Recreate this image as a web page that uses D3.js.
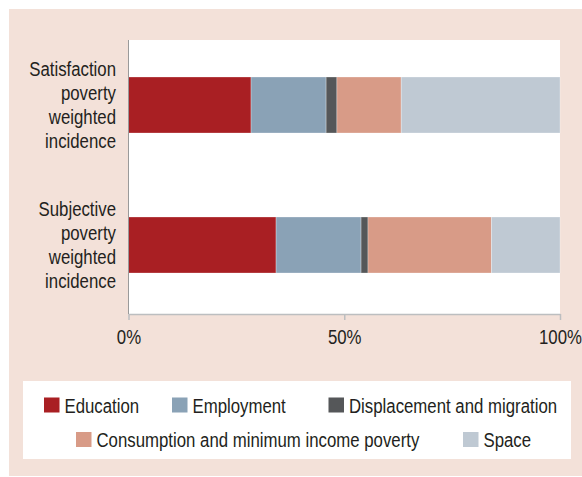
<!DOCTYPE html>
<html>
<head>
<meta charset="utf-8">
<script src="https://cdn.jsdelivr.net/npm/d3@7"></script>
<style>
  html, body { margin: 0; padding: 0; background: #ffffff; }
  svg { display: block; }
  text { font-family: "Liberation Sans", Arial, sans-serif; fill: #231f20; }
</style>
</head>
<body>
<svg id="chart" width="582" height="477"></svg>
<script>
// Poverty measures (rows) and their contributing dimensions (stacked shares, %)
const categories = [
  ["Satisfaction", "poverty", "weighted", "incidence"],
  ["Subjective", "poverty", "weighted", "incidence"]
];
const categoryKeys = ["Satisfaction poverty weighted incidence", "Subjective poverty weighted incidence"];

const seriesNames = [
  "Education",
  "Employment",
  "Displacement and migration",
  "Consumption and minimum income poverty",
  "Space"
];
const seriesColors = ["#a91f23", "#8aa2b6", "#555759", "#d89b87", "#bfc9d3"];

const education     = [28.4, 34.2];
const employment    = [17.4, 19.7];
const displacement  = [2.5, 1.6];
const consumption   = [14.9, 28.6];
const space         = [36.8, 15.9];

const tickValues = [0, 50, 100];
const tickLabels = ["0%", "50%", "100%"];

// Build a table for d3.stack from the arrays above
const seriesValues = [education, employment, displacement, consumption, space];
const table = categoryKeys.map((k, i) => {
  const row = { key: k };
  seriesNames.forEach((s, j) => { row[s] = seriesValues[j][i]; });
  return row;
});

// Condensed look: horizontal squeeze applied to all text
const squeeze = 0.8;
const fontSize = 21;

const svg = d3.select("#chart");

// Panel background
svg.append("rect")
  .attr("x", 9).attr("y", 9)
  .attr("width", 573).attr("height", 467)
  .attr("fill", "#f3e1d9");

const plot = { left: 128.5, right: 560, top: 40, bottom: 314 };

// Plot area
svg.append("rect")
  .attr("x", plot.left).attr("y", plot.top)
  .attr("width", plot.right - plot.left).attr("height", plot.bottom - plot.top)
  .attr("fill", "#ffffff");

const x = d3.scaleLinear().domain([0, 100]).range([plot.left, plot.right]);
const y = d3.scaleBand().domain(categoryKeys).range([35, 315])
  .paddingInner(0.6).paddingOuter(0.3);

const stacked = d3.stack().keys(seriesNames)(table);

svg.append("g").selectAll("g")
  .data(stacked)
  .join("g")
  .attr("fill", (d, i) => seriesColors[i])
  .selectAll("rect")
  .data(d => d)
  .join("rect")
  .attr("x", d => x(d[0]))
  .attr("y", d => y(d.data.key))
  .attr("width", d => x(d[1]) - x(d[0]))
  .attr("height", y.bandwidth())
  .attr("stroke", "rgba(255,255,255,0.35)")
  .attr("stroke-width", 0.8);

// Left axis line
svg.append("line")
  .attr("x1", plot.left).attr("x2", plot.left)
  .attr("y1", plot.top).attr("y2", plot.bottom)
  .attr("stroke", "#9a9a9a").attr("stroke-width", 1);

// Bottom axis
const xAxis = d3.axisBottom(x)
  .tickValues(tickValues)
  .tickFormat((d, i) => tickLabels[i])
  .tickSize(6)
  .tickSizeOuter(0)
  .tickPadding(9);

const gx = svg.append("g")
  .attr("transform", `translate(0,${plot.bottom})`)
  .call(xAxis);
gx.select(".domain").attr("stroke", "#bcbec0").attr("stroke-width", 1.5);
gx.selectAll(".tick line").attr("stroke", "#bcbec0").attr("stroke-width", 1.5);
gx.selectAll(".tick text")
  .attr("font-size", fontSize)
  .attr("fill", "#231f20")
  .attr("transform", `scale(${squeeze},1)`)
  .style("font-family", null);

// Category labels (multi-line, right aligned)
const lineH = 24;
categoryKeys.forEach((k, i) => {
  const lines = categories[i];
  const cy = y(k) + y.bandwidth() / 2;
  const first = cy - (lines.length - 1) * lineH / 2 + 7.5;
  const t = svg.append("text")
    .attr("text-anchor", "end")
    .attr("font-size", fontSize)
    .attr("transform", `translate(116,0) scale(${squeeze},1)`);
  lines.forEach((ln, j) => {
    t.append("tspan")
      .attr("x", 0)
      .attr("y", first + j * lineH)
      .text(ln);
  });
});

// Legend
svg.append("rect")
  .attr("x", 23).attr("y", 381)
  .attr("width", 548).attr("height", 78)
  .attr("fill", "#ffffff");

const legendRows = [
  { y: 405, items: [0, 1, 2], xs: [44, 172, 328.5] },
  { y: 439.5, items: [3, 4], xs: [76, 463] }
];
legendRows.forEach(row => {
  row.items.forEach((si, j) => {
    const g = svg.append("g").attr("transform", `translate(${row.xs[j]},${row.y})`);
    g.append("rect")
      .attr("x", 0).attr("y", -7.5)
      .attr("width", 15.5).attr("height", 15)
      .attr("fill", seriesColors[si]);
    g.append("text")
      .attr("transform", `translate(20.5,7.5) scale(${squeeze},1)`)
      .attr("font-size", fontSize)
      .text(seriesNames[si]);
  });
});
</script>
</body>
</html>
